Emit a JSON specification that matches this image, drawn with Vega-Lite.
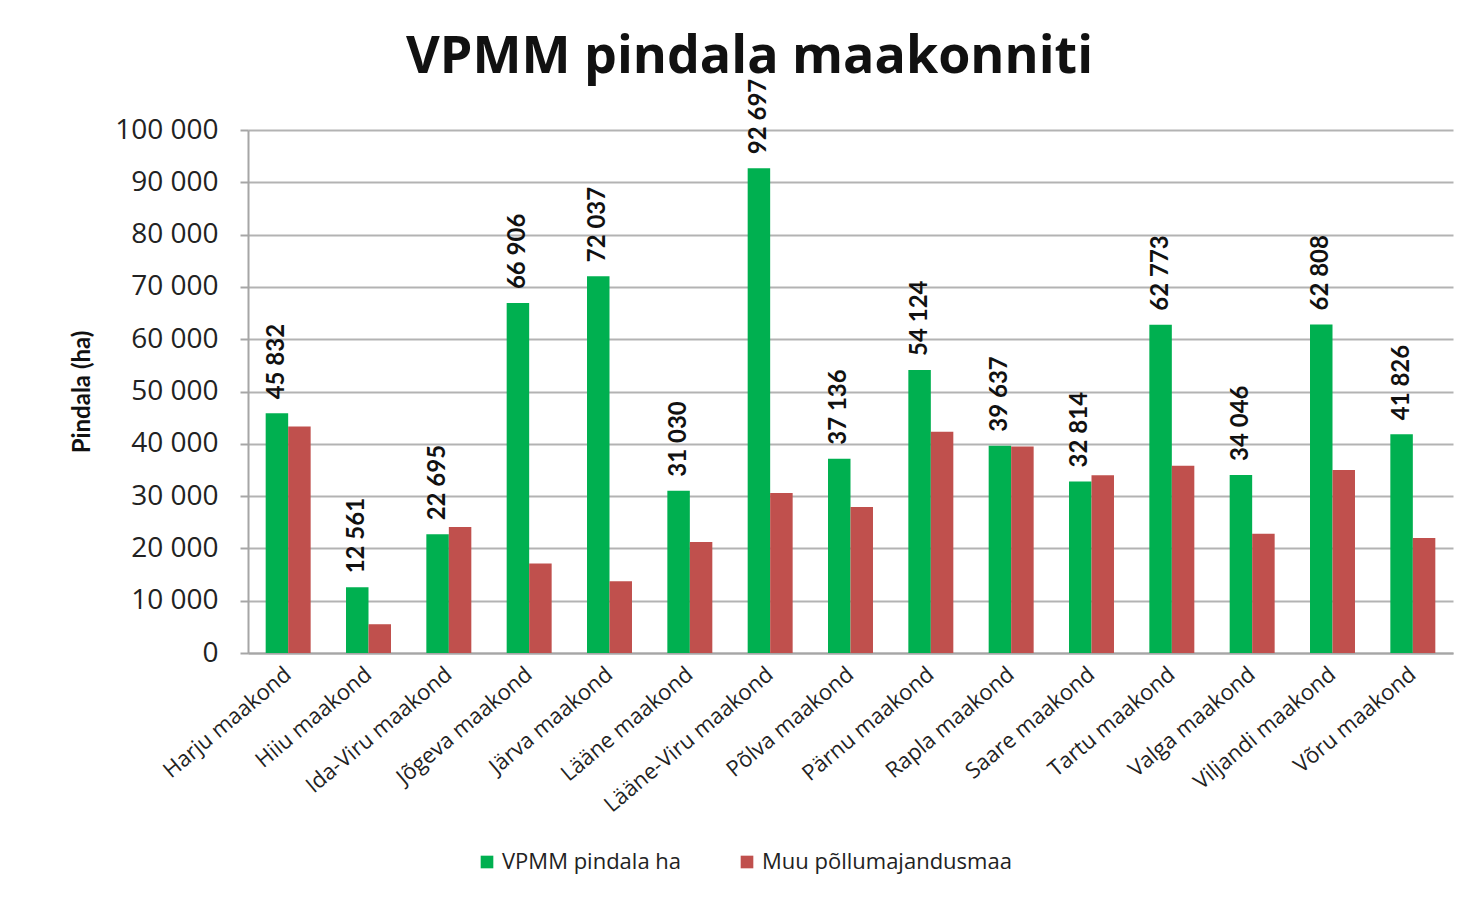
{
  "$schema": "https://vega.github.io/schema/vega-lite/v6.json",
  "width": 1205,
  "height": 523,
  "autosize": {"type": "none"},
  "padding": {"left": 248, "top": 130, "right": 20, "bottom": 245},
  "background": "white",
  "title": {
    "text": "VPMM pindala maakonniti",
    "font": "Open Sans",
    "fontSize": 52,
    "fontWeight": "bold",
    "color": "#111111",
    "anchor": "middle",
    "dx": -101,
    "offset": -5
  },
  "data": {
    "values": [
      {"county": "Harju maakond", "series": "VPMM pindala ha", "value": 45832},
      {"county": "Hiiu maakond", "series": "VPMM pindala ha", "value": 12561},
      {"county": "Ida-Viru maakond", "series": "VPMM pindala ha", "value": 22695},
      {"county": "Jõgeva maakond", "series": "VPMM pindala ha", "value": 66906},
      {"county": "Järva maakond", "series": "VPMM pindala ha", "value": 72037},
      {"county": "Lääne maakond", "series": "VPMM pindala ha", "value": 31030},
      {"county": "Lääne-Viru maakond", "series": "VPMM pindala ha", "value": 92697},
      {"county": "Põlva maakond", "series": "VPMM pindala ha", "value": 37136},
      {"county": "Pärnu maakond", "series": "VPMM pindala ha", "value": 54124},
      {"county": "Rapla maakond", "series": "VPMM pindala ha", "value": 39637},
      {"county": "Saare maakond", "series": "VPMM pindala ha", "value": 32814},
      {"county": "Tartu maakond", "series": "VPMM pindala ha", "value": 62773},
      {"county": "Valga maakond", "series": "VPMM pindala ha", "value": 34046},
      {"county": "Viljandi maakond", "series": "VPMM pindala ha", "value": 62808},
      {"county": "Võru maakond", "series": "VPMM pindala ha", "value": 41826},
      {"county": "Harju maakond", "series": "Muu põllumajandusmaa", "value": 43300},
      {"county": "Hiiu maakond", "series": "Muu põllumajandusmaa", "value": 5500},
      {"county": "Ida-Viru maakond", "series": "Muu põllumajandusmaa", "value": 24100},
      {"county": "Jõgeva maakond", "series": "Muu põllumajandusmaa", "value": 17100},
      {"county": "Järva maakond", "series": "Muu põllumajandusmaa", "value": 13700},
      {"county": "Lääne maakond", "series": "Muu põllumajandusmaa", "value": 21200},
      {"county": "Lääne-Viru maakond", "series": "Muu põllumajandusmaa", "value": 30600},
      {"county": "Põlva maakond", "series": "Muu põllumajandusmaa", "value": 27900},
      {"county": "Pärnu maakond", "series": "Muu põllumajandusmaa", "value": 42300},
      {"county": "Rapla maakond", "series": "Muu põllumajandusmaa", "value": 39500},
      {"county": "Saare maakond", "series": "Muu põllumajandusmaa", "value": 34000},
      {"county": "Tartu maakond", "series": "Muu põllumajandusmaa", "value": 35800},
      {"county": "Valga maakond", "series": "Muu põllumajandusmaa", "value": 22800},
      {"county": "Viljandi maakond", "series": "Muu põllumajandusmaa", "value": 35000},
      {"county": "Võru maakond", "series": "Muu põllumajandusmaa", "value": 22000}
    ]
  },
  "encoding": {
    "x": {
      "field": "county",
      "type": "nominal",
      "sort": null,
      "scale": {"paddingInner": 0.44, "paddingOuter": 0.22},
      "axis": {
        "title": null,
        "labelAngle": -40,
        "labelAlign": "right",
        "labelBaseline": "middle",
        "labelFont": "Open Sans",
        "labelFontSize": 22,
        "labelLimit": 400,
        "labelColor": "#222222",
        "labelPadding": 18,
        "ticks": false,
        "domainColor": "#a6a6a6",
        "domainWidth": 2
      }
    },
    "xOffset": {
      "field": "series",
      "type": "nominal",
      "scale": {"domain": ["VPMM pindala ha", "Muu põllumajandusmaa"], "paddingInner": 0, "paddingOuter": 0}
    },
    "y": {
      "field": "value",
      "type": "quantitative",
      "scale": {"domain": [0, 100000], "nice": false},
      "axis": {
        "title": "Pindala (ha)",
        "titleFont": "Lato",
        "titleFontSize": 24,
        "titleFontWeight": "bold",
        "titleColor": "#111111",
        "titlePadding": 20,
        "values": [0, 10000, 20000, 30000, 40000, 50000, 60000, 70000, 80000, 90000, 100000],
        "labelExpr": "format(datum.value, ',d')",
        "labelFont": "Open Sans",
        "labelFontSize": 28,
        "labelColor": "#222222",
        "labelPadding": 22,
        "tickSize": 8,
        "tickColor": "#a6a6a6",
        "tickWidth": 2,
        "domainColor": "#a6a6a6",
        "domainWidth": 2,
        "grid": true,
        "gridColor": "#b3b3b3",
        "gridWidth": 2
      }
    }
  },
  "layer": [
    {
      "mark": {"type": "bar"},
      "encoding": {
        "color": {
          "field": "series",
          "type": "nominal",
          "scale": {"domain": ["VPMM pindala ha", "Muu põllumajandusmaa"], "range": ["#00b050", "#c0504d"]},
          "legend": {
            "title": null,
            "orient": "none",
            "direction": "horizontal",
            "legendX": 228,
            "legendY": 721,
            "symbolType": "square",
            "symbolSize": 160,
            "symbolStrokeWidth": 0,
            "labelFont": "Open Sans",
            "labelFontSize": 22,
            "labelLimit": 500,
            "labelColor": "#222222",
            "labelOffset": 4,
            "columnPadding": 54
          }
        }
      }
    },
    {
      "transform": [{"filter": "datum.series === 'VPMM pindala ha'"}],
      "mark": {
        "type": "text",
        "angle": 270,
        "align": "left",
        "baseline": "middle",
        "dx": 14,
        "font": "Lato",
        "fontSize": 24,
        "fontWeight": "bold",
        "color": "#111111"
      },
      "encoding": {
        "text": {"field": "value", "type": "quantitative", "format": ","}
      }
    }
  ],
  "config": {
    "locale": {
      "number": {"decimal": ",", "thousands": " ", "grouping": [3], "currency": ["", " €"]}
    },
    "view": {"stroke": null}
  }
}
